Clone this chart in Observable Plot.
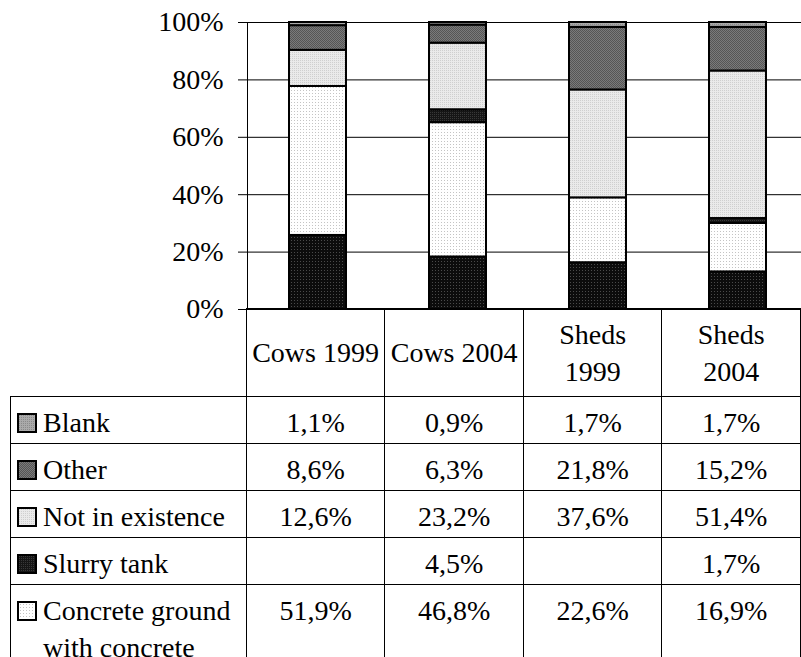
<!DOCTYPE html>
<html>
<head>
<meta charset="utf-8">
<script src="https://cdn.jsdelivr.net/npm/d3@7"></script>
<script src="https://cdn.jsdelivr.net/npm/@observablehq/plot@0.6"></script>
<style>
html, body { margin: 0; padding: 0; background: #fff; overflow: hidden; }
#wrap { position: relative; width: 801px; height: 657px; overflow: hidden;
  font-family: "Liberation Serif", Tinos, "Times New Roman", Times, "DejaVu Serif", serif; color: #000; }
#chart { position: absolute; left: 0; top: 0; }
#tbl { position: absolute; left: 10px; top: 308px; border-collapse: collapse; table-layout: fixed;
  font-size: 28px; font-family: "Liberation Serif", Tinos, "Times New Roman", Times, "DejaVu Serif", serif; }
#tbl td { border: 1px solid #000; padding: 0; text-align: center; line-height: 37px; vertical-align: top; }
#tbl tr.head td { vertical-align: middle; }
#tbl tr.head td.corner { border-top: none; border-left: none; }
#tbl tr.data td { padding-top: 7px; }
#tbl td.lab { text-align: left; padding-left: 6px; }
.labwrap { display: flex; align-items: flex-start; }
.labwrap svg { flex: none; margin-top: 9px; margin-right: 6px; }
</style>
</head>
<body>
<div id="wrap"></div>
<script>
// ---- data ----
const categories = ["Cows 1999", "Cows 2004", "Sheds 1999", "Sheds 2004"];
const headerLabels = ["Cows 1999", "Cows 2004", "Sheds\n1999", "Sheds\n2004"];
const yTicks = [0, 20, 40, 60, 80, 100];

const blank = [1.1, 0.9, 1.7, 1.7];
const other = [8.6, 6.3, 21.8, 15.2];
const notInExistence = [12.6, 23.2, 37.6, 51.4];
const slurryTank = [null, 4.5, null, 1.7];
const concreteGround = [51.9, 46.8, 22.6, 16.9];
// bottom segment: its table row is cut off in the reference (remainder to 100%)
const bottomSeries = [25.8, 18.3, 16.3, 13.1];

const stackOrder = ["(row cut off)", "Concrete ground with concrete", "Slurry tank", "Not in existence", "Other", "Blank"];
const seriesValues = {
  "(row cut off)": bottomSeries,
  "Concrete ground with concrete": concreteGround,
  "Slurry tank": slurryTank,
  "Not in existence": notInExistence,
  "Other": other,
  "Blank": blank
};
const patternIds = ["pat-bottom", "pat-concrete", "pat-slurry", "pat-notexist", "pat-other", "pat-blank"];

// table rows (top to bottom)
const tableSeries = ["Blank", "Other", "Not in existence", "Slurry tank", "Concrete ground with concrete"];
const tableLabels = ["Blank", "Other", "Not in existence", "Slurry tank", "Concrete ground\nwith concrete"];

// ---- build rows ----
const rows = [];
for (const s of stackOrder) {
  seriesValues[s].forEach((v, i) => {
    if (v != null) rows.push({category: categories[i], series: s, value: v});
  });
}

const fontFamily = '"Liberation Serif", Tinos, "Times New Roman", Times, "DejaVu Serif", serif';

const chart = Plot.plot({
  width: 801,
  height: 657,
  marginLeft: 247,
  marginRight: 0,
  marginTop: 22,
  marginBottom: 348,
  style: {fontFamily, fontSize: "28px", color: "#000", background: "transparent", overflow: "visible"},
  x: {domain: categories, range: [247, 807], paddingInner: 0.593, paddingOuter: 0.2965, axis: null},
  y: {domain: [0, 100], axis: null},
  color: {type: "ordinal", domain: stackOrder, range: patternIds.map(id => `url(#${id})`)},
  marks: [
    Plot.gridY(yTicks, {stroke: "#000", strokeOpacity: 1, strokeWidth: 1}),
    Plot.axisY(yTicks, {tickFormat: d => d + "%", tickSize: 9, tickPadding: 15, fontSize: 28, fontFamily, label: null, stroke: "#000"}),
    Plot.frame({anchor: "left", stroke: "#000"}),
    Plot.barY(rows, {x: "category", y: "value", fill: "series", stroke: "#000", strokeWidth: 2})
  ]
});
chart.id = "chart";
document.getElementById("wrap").appendChild(chart);

// ---- patterns ----
const defs = d3.select(chart).insert("defs", ":first-child");
function pattern(id, size, bg, dot, checker) {
  const p = defs.append("pattern").attr("id", id).attr("patternUnits", "userSpaceOnUse")
    .attr("width", size).attr("height", size);
  p.append("rect").attr("width", size).attr("height", size).attr("fill", bg);
  p.append("rect").attr("width", 1).attr("height", 1).attr("fill", dot);
  if (checker) p.append("rect").attr("x", 1).attr("y", 1).attr("width", 1).attr("height", 1).attr("fill", dot);
}
pattern("pat-bottom", 3, "#0c0c0c", "#4a4a4a", false);
pattern("pat-concrete", 3, "#ffffff", "#c4c4c4", false);
pattern("pat-slurry", 2, "#161616", "#383838", false);
pattern("pat-notexist", 2, "#eaeaea", "#cfcfcf", false);
pattern("pat-other", 2, "#7a7a7a", "#555555", true);
pattern("pat-blank", 2, "#aaaaaa", "#8a8a8a", false);

// ---- data table below the chart ----
const fmt = v => v == null ? "" : v.toFixed(1).replace(".", ",") + "%";
const tbl = d3.select("#wrap").append("table").attr("id", "tbl");
const cg = tbl.append("colgroup");
cg.append("col").style("width", "238px");
categories.forEach(() => cg.append("col").style("width", "140px"));

const head = tbl.append("tr").attr("class", "head").style("height", "88px");
head.append("td").attr("class", "corner");
headerLabels.forEach(h => {
  const td = head.append("td");
  h.split("\n").forEach((line, i) => { if (i) td.append("br"); td.append(() => document.createTextNode(line)); });
});

tableSeries.forEach((s, r) => {
  const last = r === tableSeries.length - 1;
  const tr = tbl.append("tr").attr("class", "data").style("height", last ? "110px" : "47px");
  const lab = tr.append("td").attr("class", "lab").append("div").attr("class", "labwrap");
  const sw = lab.append("svg").attr("width", 20).attr("height", 20);
  sw.append("rect").attr("x", 1).attr("y", 1).attr("width", 18).attr("height", 18)
    .attr("fill", `url(#${patternIds[stackOrder.indexOf(s)]})`).attr("stroke", "#000").attr("stroke-width", 2);
  const txt = lab.append("div");
  tableLabels[r].split("\n").forEach((line, i) => { if (i) txt.append("br"); txt.append(() => document.createTextNode(line)); });
  seriesValues[s].forEach(v => tr.append("td").text(fmt(v)));
});
</script>
</body>
</html>
